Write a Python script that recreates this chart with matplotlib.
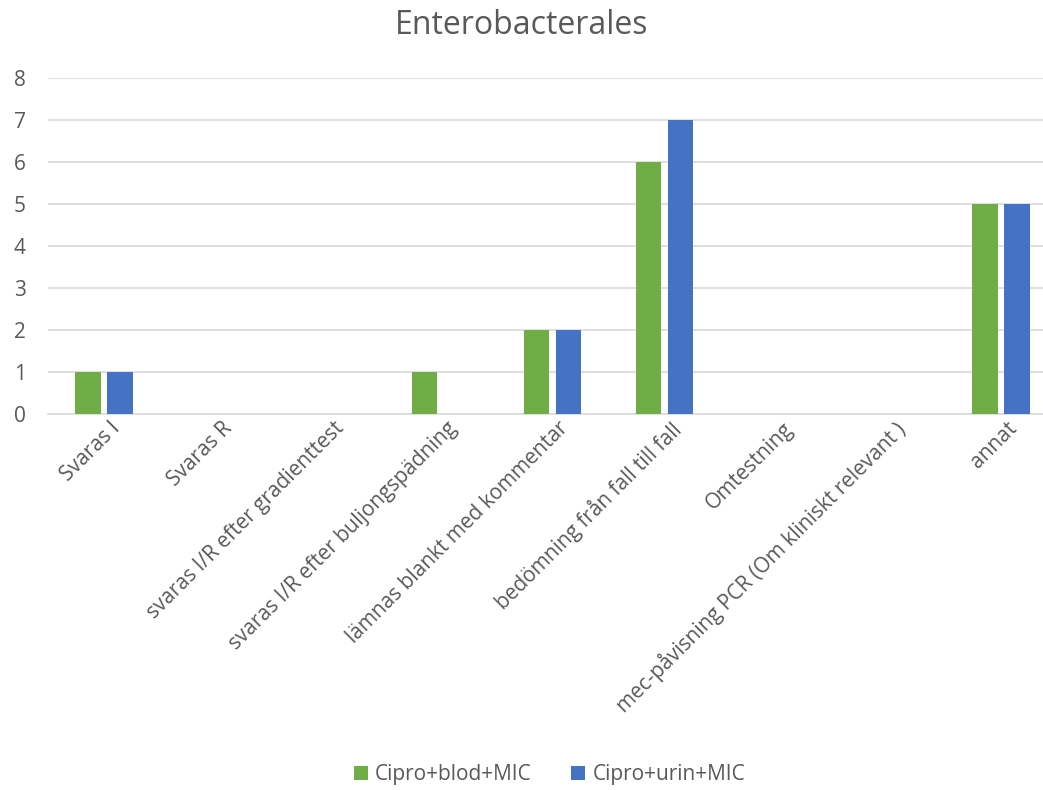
import matplotlib
matplotlib.use("Agg")
import matplotlib.pyplot as plt
import numpy as np

categories = [
    "Svaras I",
    "Svaras R",
    "svaras I/R efter gradienttest",
    "svaras I/R efter buljongspädning",
    "lämnas blankt med kommentar",
    "bedömning från fall till fall",
    "Omtestning",
    "mec-påvisning PCR (Om kliniskt relevant )",
    "annat",
]
blod = [1, 0, 0, 1, 2, 6, 0, 0, 5]
urin = [1, 0, 0, 0, 2, 7, 0, 0, 5]
series_names = ["Cipro+blod+MIC", "Cipro+urin+MIC"]
yticks = [0, 1, 2, 3, 4, 5, 6, 7, 8]

plt.rcParams["font.family"] = ["Open Sans", "DejaVu Sans"]
text_color = "#595959"

fig = plt.figure(figsize=(10.43, 7.90), dpi=100)
ax = fig.add_axes([0.046, 0.476, 0.9675, 0.425])

x = np.arange(len(categories))
w = 0.225
off = 0.143
ax.bar(x - off, blod, width=w, color="#70AD47", label=series_names[0], zorder=3)
ax.bar(x + off, urin, width=w, color="#4472C4", label=series_names[1], zorder=3)

ax.set_xlim(-0.5, len(categories) - 0.5)
ax.set_ylim(0, 8)
ax.set_yticks(yticks)
ax.yaxis.grid(True, color="#D9D9D9", linewidth=1.2, zorder=0)
ax.set_axisbelow(True)
for s in ["top", "right", "left"]:
    ax.spines[s].set_visible(False)
ax.spines["bottom"].set_color("#D9D9D9")
ax.spines["bottom"].set_linewidth(1.2)
ax.tick_params(axis="y", length=0, labelsize=15, labelcolor=text_color, pad=16)
ax.tick_params(axis="x", length=0, labelsize=15, labelcolor=text_color, pad=3)

ax.set_xticks(x + 0.05)
ax.set_xticklabels(categories, rotation=45, ha="right", rotation_mode="anchor")

fig.text(0.5, 0.968, "Enterobacterales", ha="center", va="center",
         fontsize=23, color=text_color)

fig.legend(loc="center", bbox_to_anchor=(0.527, 0.019), ncol=2, frameon=False,
           fontsize=15, labelcolor=text_color, handlelength=0.65, handleheight=0.65,
           handletextpad=0.35, columnspacing=1.9)

fig.savefig("out.png", dpi=100)
